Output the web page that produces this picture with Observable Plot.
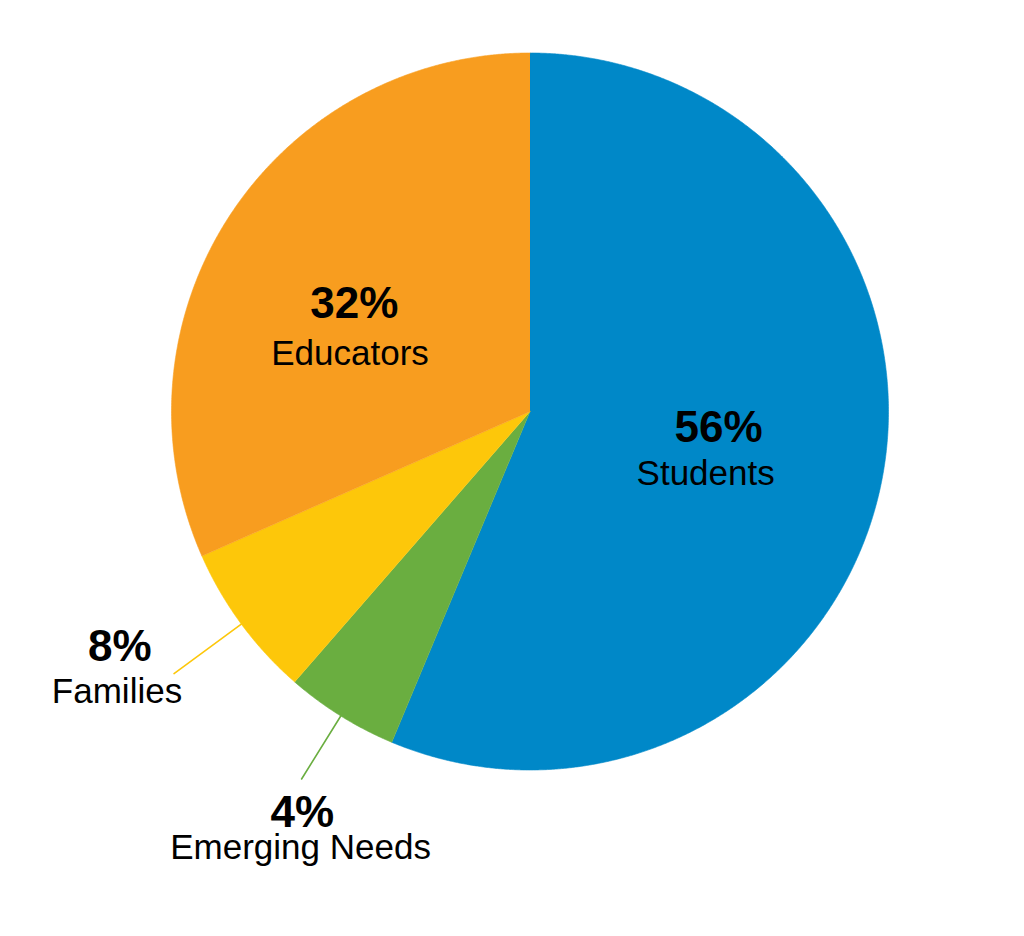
<!DOCTYPE html>
<html>
<head>
<meta charset="utf-8">
<script src="https://cdn.jsdelivr.net/npm/d3@7"></script>
<script src="https://cdn.jsdelivr.net/npm/@observablehq/plot@0.6"></script>
<style>
  html, body { margin: 0; padding: 0; background: #fff; }
  #chart svg { display: block; }
</style>
</head>
<body>
<div id="chart"></div>
<script>
// ---- data ----
const categories = ["Students", "Emerging Needs", "Families", "Educators"];
const shares = [56.3, 5.1, 7.0, 31.6];           // slice sizes
const pctLabels = ["56%", "4%", "8%", "32%"];     // labels as printed

// ---- styles / layout ----
const colors = ["#0088C8", "#6AAE40", "#FDC70A", "#F89D1F"];
const outside = new Set(["Emerging Needs", "Families"]);
// label anchor positions in unit-circle coordinates (pct baseline, name baseline)
const labelPos = {
  "Students":       {pct: [0.526, -0.086],  name: [0.490, -0.206]},
  "Educators":      {pct: [-0.490, 0.262],  name: [-0.502, 0.131]},
  "Families":       {pct: [-1.144, -0.697], name: [-1.152, -0.812]},
  "Emerging Needs": {pct: [-0.635, -1.160], name: [-0.640, -1.247]}
};
const leaderOuter = {"Families": 1.233, "Emerging Needs": 1.207};

const rows = categories.map((c, i) => ({name: c, value: shares[i], label: pctLabels[i]}));
const arcs = d3.pie().sort(null).value(d => d.value)(rows);

// slice outlines (center + arc points) in unit coordinates
const slicePts = [];
for (const a of arcs) {
  const n = Math.max(4, Math.ceil((a.endAngle - a.startAngle) / (Math.PI / 720)));
  slicePts.push({name: a.data.name, x: 0, y: 0});
  for (let k = 0; k <= n; k++) {
    const t = a.startAngle + (a.endAngle - a.startAngle) * k / n;
    slicePts.push({name: a.data.name, x: Math.sin(t), y: Math.cos(t)});
  }
}

// leader lines
const leaderPts = [];
for (const a of arcs) {
  if (!outside.has(a.data.name)) continue;
  const m = (a.startAngle + a.endAngle) / 2;
  for (const r of [1.0, leaderOuter[a.data.name]]) {
    leaderPts.push({name: a.data.name, x: r * Math.sin(m), y: r * Math.cos(m)});
  }
}

const pctText = rows.map(d => ({text: d.label, x: labelPos[d.name].pct[0], y: labelPos[d.name].pct[1]}));
const nameText = rows.map(d => ({text: d.name, x: labelPos[d.name].name[0], y: labelPos[d.name].name[1]}));

const font = "'Liberation Sans', Arial, Helvetica, sans-serif";

const chart = Plot.plot({
  width: 1024,
  height: 936,
  margin: 0,
  style: {background: "#fff", fontFamily: font},
  x: {domain: [-1, 1], range: [171, 888], axis: null},
  y: {domain: [-1, 1], range: [769.5, 52.5], axis: null},
  color: {domain: categories, range: colors},
  marks: [
    Plot.line(slicePts, {x: "x", y: "y", z: "name", fill: "name", stroke: "name", strokeWidth: 0.6, curve: "linear"}),
    Plot.line(leaderPts, {x: "x", y: "y", z: "name", stroke: "name", strokeWidth: 1.6}),
    Plot.text(pctText, {x: "x", y: "y", text: "text", textAnchor: "middle", lineAnchor: "bottom",
      fontSize: 44, fontWeight: "bold", fill: "#000", fontFamily: font}),
    Plot.text(nameText, {x: "x", y: "y", text: "text", textAnchor: "middle", lineAnchor: "bottom",
      fontSize: 35, fill: "#000", fontFamily: font})
  ]
});
document.getElementById("chart").appendChild(chart);
</script>
</body>
</html>
